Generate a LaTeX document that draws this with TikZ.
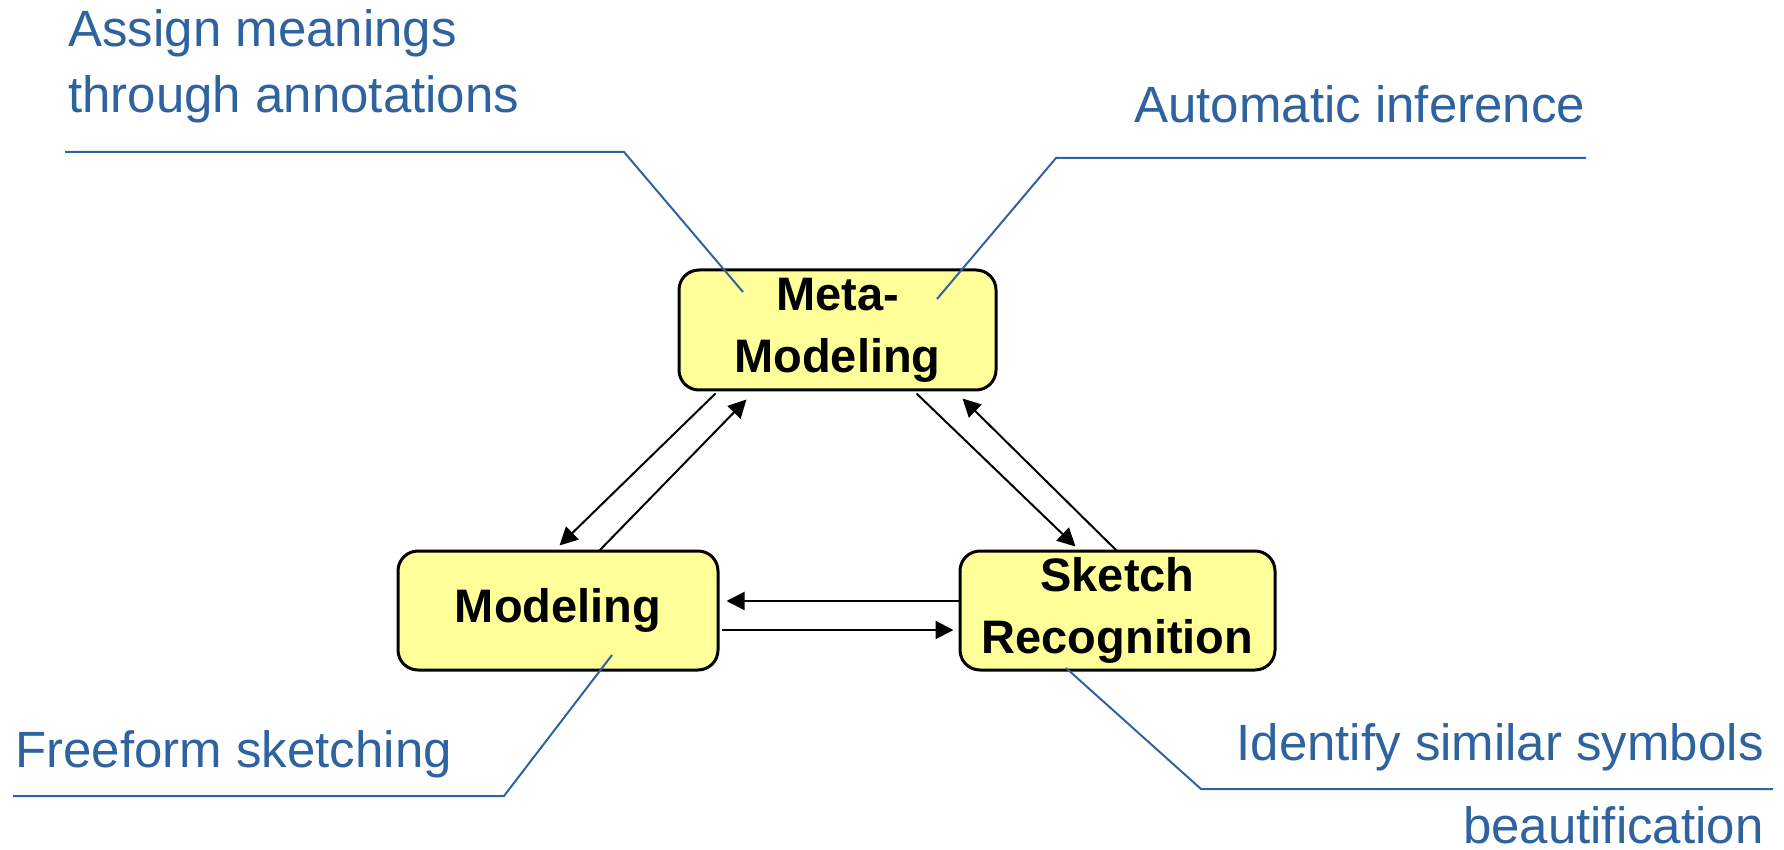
\documentclass[tikz,border=0pt]{standalone}
\usepackage{fontspec}
\setmainfont{Liberation Sans}
\usetikzlibrary{arrows.meta,calc}
\definecolor{noteblue}{RGB}{46,99,160}
\definecolor{stageyellow}{RGB}{255,255,153}
\tikzset{
  stage/.style={draw=black, line width=1.5pt, fill=stageyellow, rounded corners=10pt,
    align=center, inner sep=0pt, font=\bfseries\fontsize{23.5}{31}\selectfont},
  flow/.style={-{Triangle[length=9pt,width=9pt]}, line width=1pt},
  callout/.style={draw=noteblue, line width=1pt},
  note/.style={text=noteblue, inner sep=0pt, font=\fontsize{25.5}{33}\selectfont},
}
\begin{document}
\begin{tikzpicture}[x=0.5pt,y=-0.5pt]
\useasboundingbox (0,0) rectangle (1784,850);
% the three stages
\node[stage, minimum width=158.5pt, minimum height=60pt] (meta) at (837.5,330) {Meta-\\Modeling};
\node[stage, minimum width=160pt, minimum height=59.5pt] (model) at (558,610.5) {Modeling};
\node[stage, minimum width=157.5pt, minimum height=59.5pt] (sketch) at (1117.5,610.5) {Sketch\\Recognition};
% arrows between the stages
\draw[flow] ($(meta.south west)+(38,2)$) -- ($(model.north west)+(163,-4)$);
\draw[flow] ($(model.north west)+(202,2)$) -- ($(meta.south west)+(69,8)$);
\draw[flow] ($(meta.south west)+(239,2)$) -- ($(sketch.north west)+(117,-3)$);
\draw[flow] ($(sketch.north west)+(159,2)$) -- ($(meta.south west)+(285,7)$);
\draw[flow] ($(sketch.west)+(0,-9.5)$) -- ($(model.east)+(7,-9.5)$);
\draw[flow] ($(model.east)+(2,19.5)$) -- ($(sketch.west)+(-5,19.5)$);
% notes
\node[note, anchor=base west, align=left] (assign) at (68,113) {Assign meanings\\through annotations};
\node[note, anchor=base west] (infer) at (1134,123) {Automatic inference};
\node[note, anchor=base west] (freeform) at (15,767) {Freeform sketching};
\node[note, anchor=base east] (identify) at (1764,760) {Identify similar symbols};
\node[note, anchor=base east] (beautify) at (1764,843) {beautification};
% callout lines
\coordinate (assignend) at (743,292);
\coordinate (inferend) at (937,299);
\coordinate (freeend) at (612,655);
\coordinate (identend) at (1066,668);
\draw[callout] (65,152) -- (624,152) -- (assignend);
\draw[callout] (inferend) -- (1056,158) -- (1586,158);
\draw[callout] (13,796) -- (504,796) -- (freeend);
\draw[callout] (identend) -- (1201,789) -- (1773,789);
\end{tikzpicture}
\end{document}
